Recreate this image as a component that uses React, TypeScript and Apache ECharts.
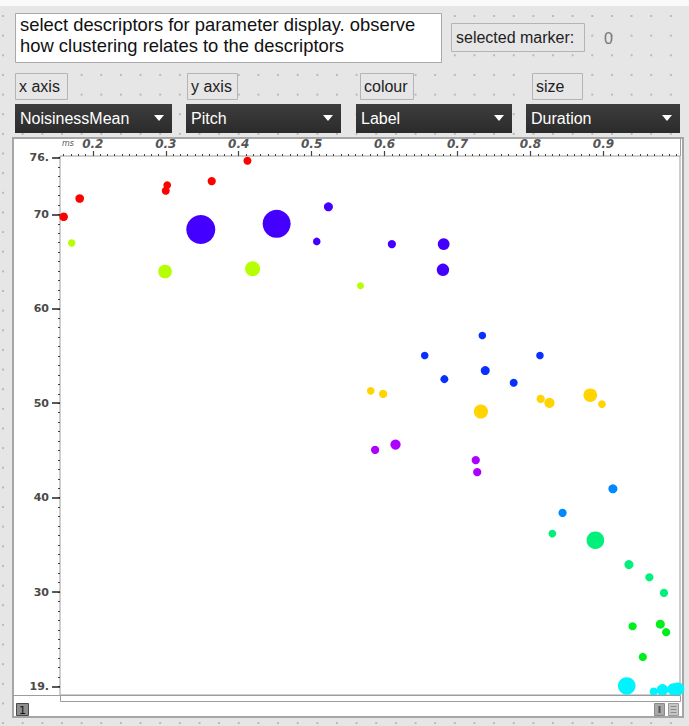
import React, { useEffect, useRef } from "react";
import * as echarts from "echarts";

// ---- data: [NoisinessMean, Pitch, Duration(s)] per label cluster ----
const labelNames = ["L0", "L1", "L2", "L3", "L4", "L5", "L6", "L7", "L8", "L9"];
const labelColours = ["#ff0000", "#b6ff00", "#4400ff", "#0a30ff", "#ffd400", "#ad00ff", "#0088ff", "#00f07c", "#00ee1c", "#00f4ff"];

const cluster0 = [[0.412, 75.67, 0.35], [0.363, 73.52, 0.36], [0.302, 73.1, 0.34], [0.300, 72.5, 0.35], [0.182, 71.68, 0.38], [0.160, 69.74, 0.38]];
const cluster1 = [[0.171, 66.96, 0.32], [0.299, 63.95, 0.63], [0.419, 64.23, 0.70], [0.567, 62.43, 0.30]];
const cluster2 = [[0.348, 68.4, 1.40], [0.452, 69.0, 1.35], [0.523, 70.8, 0.40], [0.507, 67.13, 0.33], [0.610, 66.85, 0.36], [0.681, 66.85, 0.54], [0.680, 64.13, 0.57]];
const cluster3 = [[0.734, 57.17, 0.33], [0.655, 55.05, 0.33], [0.813, 55.05, 0.33], [0.738, 53.46, 0.40], [0.682, 52.55, 0.35], [0.777, 52.16, 0.35]];
const cluster4 = [[0.581, 51.31, 0.33], [0.598, 50.99, 0.36], [0.732, 49.12, 0.66], [0.814, 50.46, 0.36], [0.826, 50.04, 0.46], [0.882, 50.85, 0.63], [0.898, 49.9, 0.33]];
const cluster5 = [[0.587, 45.06, 0.36], [0.615, 45.62, 0.46], [0.725, 43.97, 0.36], [0.727, 42.7, 0.36]];
const cluster6 = [[0.913, 40.93, 0.40], [0.844, 38.39, 0.36]];
const cluster7 = [[0.830, 36.19, 0.33], [0.889, 35.49, 0.83], [0.935, 32.91, 0.40], [0.963, 31.57, 0.36], [0.983, 29.91, 0.36]];
const cluster8 = [[0.940, 26.38, 0.36], [0.978, 26.6, 0.40], [0.986, 25.75, 0.36], [0.954, 23.13, 0.36]];
const cluster9 = [[0.932, 20.06, 0.83], [0.969, 19.46, 0.36], [0.981, 19.64, 0.53], [0.996, 19.71, 0.56], [1.002, 19.74, 0.6]];
const clusters = [cluster0, cluster1, cluster2, cluster3, cluster4, cluster5, cluster6, cluster7, cluster8, cluster9];

const xMajorTicks = [0.2, 0.3, 0.4, 0.5, 0.6, 0.7, 0.8, 0.9];
const yMajorTicks = [20, 30, 40, 50, 60, 70, 76];
const yTickLabels = ["19.", "30", "40", "50", "60", "70", "76."];

const commentLines = ["select descriptors for parameter display. observe", "how clustering relates to the descriptors"];
const menuTitles = ["x axis", "y axis", "colour", "size"];
const menuValues = ["NoisinessMean", "Pitch", "Label", "Duration"];

const X_MIN = 0.155, X_MAX = 1.005, Y_MIN = 19.1, Y_MAX = 76.18;

function range(a: number, b: number, step: number, dec: number) {
  const out: number[] = [];
  for (let v = a; v <= b + 1e-9; v += step) out.push(Number(v.toFixed(dec)));
  return out;
}

export default function App() {
  const ref = useRef<HTMLDivElement>(null);
  useEffect(() => {
    if (!ref.current) return;
    const chart = echarts.init(ref.current, null, { renderer: "svg" });
    const uiFont = "'Liberation Sans', Arial, sans-serif";
    const xMinor = range(0.16, 1.0, 0.01, 2);
    const yMinor = range(20, 76, 1, 0);

    const menuX = [[15, 172], [186, 341], [356, 512], [526, 680]];
    const titleX = [[15, 67], [187, 237], [360, 413], [532, 582]];

    const graphics: any[] = [];
    graphics.push({ type: "rect", z: -5, silent: true, shape: { x: 0, y: 0, width: 689, height: 6 }, style: { fill: "#fafafa" } });
    graphics.push({ type: "rect", z: -5, shape: { x: 15.5, y: 13.5, width: 426, height: 49 }, style: { fill: "#ffffff", stroke: "#a9a9a9", lineWidth: 1 } });
    commentLines.forEach((t, i) => {
      graphics.push({ type: "text", z: 5, x: 20, y: 24 + i * 21, style: { text: t, fill: "#111", font: `18.4px ${uiFont}`, verticalAlign: "middle", align: "left" } });
    });
    graphics.push({ type: "rect", z: -5, shape: { x: 451.5, y: 23.5, width: 133, height: 28 }, style: { fill: "#e6e6e6", stroke: "#b4b4b4", lineWidth: 1 } });
    graphics.push({ type: "text", z: 5, x: 456, y: 37.5, style: { text: "selected marker:", fill: "#222", font: `16px ${uiFont}`, verticalAlign: "middle" } });
    graphics.push({ type: "text", z: 5, x: 604, y: 38.5, style: { text: "0", fill: "#777", font: `16px ${uiFont}`, verticalAlign: "middle" } });
    menuTitles.forEach((t, i) => {
      const [a, b] = titleX[i];
      graphics.push({ type: "rect", z: -5, shape: { x: a + 0.5, y: 73.5, width: b - a, height: 26 }, style: { fill: "#e6e6e6", stroke: "#b4b4b4", lineWidth: 1 } });
      graphics.push({ type: "text", z: 5, x: a + 4, y: 86.5, style: { text: t, fill: "#222", font: `16px ${uiFont}`, verticalAlign: "middle" } });
      const [c, d] = menuX[i];
      graphics.push({
        type: "rect", z: -5, shape: { x: c, y: 104, width: d - c, height: 29 },
        style: { fill: new echarts.graphic.LinearGradient(0, 0, 0, 1, [{ offset: 0, color: "#3d3d3d" }, { offset: 1, color: "#2b2b2b" }]) },
      });
      graphics.push({ type: "text", z: 5, x: c + 5, y: 118.5, style: { text: menuValues[i], fill: "#ffffff", font: `16px ${uiFont}`, verticalAlign: "middle" } });
      graphics.push({ type: "polygon", z: 5, shape: { points: [[d - 18, 115], [d - 8, 115], [d - 13, 121]] }, style: { fill: "#ffffff" } });
    });
    graphics.push({ type: "rect", z: -5, silent: true, shape: { x: 13, y: 138, width: 670, height: 579 }, style: { fill: "#ffffff", stroke: "#a6a6a6", lineWidth: 2 } });
    graphics.push({ type: "line", z: 5, shape: { x1: 680.5, y1: 138, x2: 680.5, y2: 156 }, style: { stroke: "#9c9c9c", lineWidth: 1 } });
    graphics.push({ type: "line", z: 5, shape: { x1: 13, y1: 695.5, x2: 60, y2: 695.5 }, style: { stroke: "#9c9c9c", lineWidth: 1 } });
    graphics.push({ type: "rect", z: 5, shape: { x: 60.5, y: 695.5, width: 620, height: 6 }, style: { fill: "#ffffff", stroke: "#9c9c9c", lineWidth: 1 } });
    graphics.push({ type: "text", z: 5, x: 62, y: 143.5, style: { text: "ms", fill: "#555", font: `italic 8px 'DejaVu Sans', sans-serif`, verticalAlign: "middle" } });
    graphics.push({ type: "rect", z: 5, shape: { x: 16.5, y: 703.5, width: 12, height: 12 }, style: { fill: "#8e8e8e", stroke: "#4a4a4a", lineWidth: 1 } });
    graphics.push({ type: "text", z: 6, x: 22.5, y: 710, style: { text: "1", fill: "#111", font: `11px 'DejaVu Sans', sans-serif`, verticalAlign: "middle", align: "center" } });
    graphics.push({ type: "rect", z: 5, shape: { x: 654.5, y: 703.5, width: 10, height: 12 }, style: { fill: "#a9a9a9", stroke: "#8a8a8a", lineWidth: 1 } });
    graphics.push({ type: "rect", z: 6, shape: { x: 658.5, y: 706, width: 2, height: 7 }, style: { fill: "#555" } });
    graphics.push({ type: "rect", z: 5, shape: { x: 668.5, y: 703.5, width: 10, height: 12 }, style: { fill: "#c6c6c6", stroke: "#9a9a9a", lineWidth: 1 } });
    [706.5, 709.5, 712.5].forEach((yy) => {
      graphics.push({ type: "line", z: 6, shape: { x1: 670.5, y1: yy, x2: 676.5, y2: yy }, style: { stroke: "#8a8a8a", lineWidth: 1 } });
    });

    const axisCommon = { type: "value", min: X_MIN, max: X_MAX, position: "top", splitLine: { show: false } };
    const yCommon = { type: "value", min: Y_MIN, max: Y_MAX, position: "left", splitLine: { show: false } };

    chart.setOption({
      animation: false,
      backgroundColor: "transparent",
      grid: { left: 60, top: 156, right: 9, bottom: 31, show: true, borderColor: "#9c9c9c", borderWidth: 1, backgroundColor: "transparent" },
      xAxis: [
        {
          ...axisCommon,
          axisLine: { show: false },
          axisTick: { show: true, customValues: xMinor, length: 2, inside: false, lineStyle: { color: "#444", width: 1 } },
          axisLabel: { show: false },
        },
        {
          ...axisCommon,
          axisLine: { show: false },
          axisTick: { show: true, customValues: xMajorTicks, length: 5, inside: false, lineStyle: { color: "#444", width: 1.2 } },
          axisLabel: {
            show: true, customValues: xMajorTicks, margin: 6,
            formatter: (v: number) => v.toFixed(1),
            fontFamily: "'DejaVu Sans', sans-serif", fontStyle: "italic", fontWeight: "bold", fontSize: 12, color: "#555",
          },
        },
      ],
      yAxis: [
        {
          ...yCommon,
          axisLine: { show: false },
          axisTick: { show: true, customValues: yMinor, length: 2, inside: false, lineStyle: { color: "#444", width: 1 } },
          axisLabel: { show: false },
        },
        {
          ...yCommon,
          axisLine: { show: false },
          axisTick: { show: true, customValues: yMajorTicks, length: 8, inside: false, lineStyle: { color: "#222", width: 1.5 } },
          axisLabel: {
            show: true, customValues: yMajorTicks, margin: 11,
            formatter: (v: number) => yTickLabels[yMajorTicks.indexOf(v)] ?? String(v),
            fontFamily: "'DejaVu Sans', sans-serif", fontWeight: "bold", fontSize: 11, color: "#4a4a4a",
          },
        },
      ],
      graphic: { elements: graphics },
      series: clusters.map((c, i) => ({
        type: "scatter",
        name: labelNames[i],
        xAxisIndex: 0,
        yAxisIndex: 0,
        clip: true,
        data: c,
        symbolSize: (v: number[]) => v[2] * 20 + 1,
        itemStyle: { color: labelColours[i], opacity: 1 },
      })),
    });
    return () => chart.dispose();
  }, []);

  return (
    <div
      style={{
        position: "fixed", left: 0, top: 0, width: 689, height: 726,
        backgroundColor: "#e6e6e6",
        backgroundImage: "radial-gradient(circle, #b9b9b9 0px, #b9b9b9 0.8px, rgba(230,230,230,0) 1.3px)",
        backgroundSize: "19.65px 19.65px",
        backgroundPosition: "12.9px 6.2px",
      }}
    >
      <div ref={ref} style={{ width: 689, height: 726 }} />
    </div>
  );
}
